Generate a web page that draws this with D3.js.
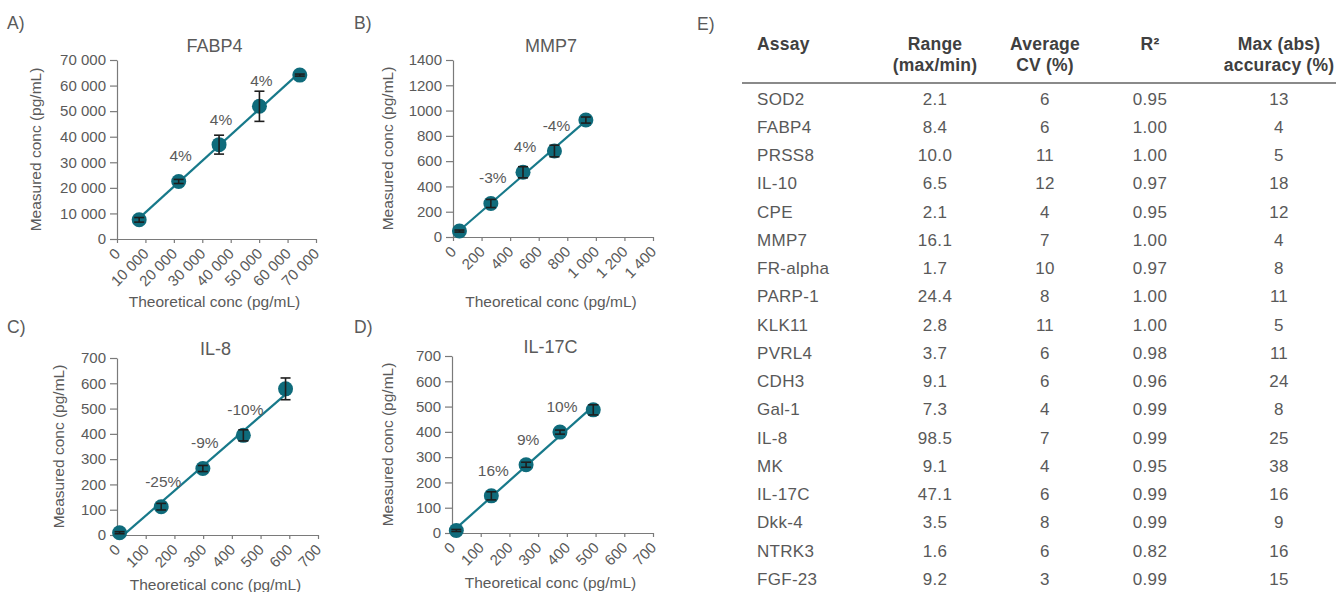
<!DOCTYPE html>
<html>
<head>
<meta charset="utf-8">
<script src="https://cdn.jsdelivr.net/npm/d3@7"></script>
<style>
  html, body { margin: 0; padding: 0; background: #fff; }
  svg { display: block; font-family: "Liberation Sans", Arial, Helvetica, sans-serif; }
</style>
</head>
<body>
<script>
// ---------------- DATA ----------------
// Panel A: FABP4
const fabp4Theoretical = [7800, 21700, 35900, 50100, 64300];
const fabp4Measured    = [7500, 22500, 36900, 51900, 64100];
const fabp4Error       = [900, 800, 3700, 5900, 400];
const fabp4Labels      = [null, "4%", "4%", "4%", null];
const fabp4Ticks       = [0, 10000, 20000, 30000, 40000, 50000, 60000, 70000];

// Panel B: MMP7
const mmp7Theoretical = [45, 265, 490, 710, 930];
const mmp7Measured    = [47, 265, 512, 680, 925];
const mmp7Error       = [8, 32, 44, 46, 24];
const mmp7Labels      = [null, "-3%", "4%", "-4%", null];
const mmp7Ticks       = [0, 200, 400, 600, 800, 1000, 1200, 1400];

// Panel C: IL-8
const il8Theoretical = [9, 154, 299, 440, 587];
const il8Measured    = [9, 112, 263, 394, 578];
const il8Error       = [4, 13, 12, 22, 43];
const il8Labels      = [null, "-25%", "-9%", "-10%", null];
const il8Ticks       = [0, 100, 200, 300, 400, 500, 600, 700];

// Panel D: IL-17C
const il17cTheoretical = [15, 137, 258, 376, 492];
const il17cMeasured    = [10, 147, 270, 399, 487];
const il17cError       = [4, 16, 10, 8, 20];
const il17cLabels      = [null, "16%", "9%", "10%", null];
const il17cTicks       = [0, 100, 200, 300, 400, 500, 600, 700];

// Panel E: table
const tableHeaders = [["Assay"], ["Range", "(max/min)"], ["Average", "CV (%)"], ["R²"], ["Max (abs)", "accuracy (%)"]];
const assays   = ["SOD2", "FABP4", "PRSS8", "IL-10", "CPE", "MMP7", "FR-alpha", "PARP-1", "KLK11", "PVRL4", "CDH3", "Gal-1", "IL-8", "MK", "IL-17C", "Dkk-4", "NTRK3", "FGF-23"];
const ranges   = [2.1, 8.4, 10.0, 6.5, 2.1, 16.1, 1.7, 24.4, 2.8, 3.7, 9.1, 7.3, 98.5, 9.1, 47.1, 3.5, 1.6, 9.2];
const avgCV    = [6, 6, 11, 12, 4, 7, 10, 8, 11, 6, 6, 4, 7, 4, 6, 8, 6, 3];
const rSquared = [0.95, 1.00, 1.00, 0.97, 0.95, 1.00, 0.97, 1.00, 1.00, 0.98, 0.96, 0.99, 0.99, 0.95, 0.99, 0.99, 0.82, 0.99];
const maxAcc   = [13, 4, 5, 18, 12, 4, 8, 11, 5, 11, 24, 8, 25, 38, 16, 9, 16, 15];

// ---------------- DRAWING ----------------
const W = 1336, H = 592;
const textColor = "#5a5a5a";
const axisColor = "#7a7a7a";
const teal = "#0f6b7b";
const lineTeal = "#17798a";

const spaced = d3.formatLocale({decimal: ".", thousands: " ", grouping: [3], currency: ["", ""]}).format(",");
const plain = d3.format("d");

const svg = d3.select("body").append("svg").attr("width", W).attr("height", H);

const panels = [
  {letter: "A)", title: "FABP4", x: fabp4Theoretical, y: fabp4Measured, e: fabp4Error, lab: fabp4Labels,
   xt: fabp4Ticks, yt: fabp4Ticks, xf: spaced, yf: spaced,
   box: {l: 117, r: 316, t: 60, b: 239}, yTitleX: 36, xTitleDy: 68, letterXY: [7, 29], titleY: 52},
  {letter: "B)", title: "MMP7", x: mmp7Theoretical, y: mmp7Measured, e: mmp7Error, lab: mmp7Labels,
   xt: mmp7Ticks, yt: mmp7Ticks, xf: spaced, yf: plain,
   box: {l: 453, r: 653, t: 60, b: 237}, yTitleX: 388, xTitleDy: 70, letterXY: [354, 29], titleY: 52},
  {letter: "C)", title: "IL-8", x: il8Theoretical, y: il8Measured, e: il8Error, lab: il8Labels,
   xt: il8Ticks, yt: il8Ticks, xf: plain, yf: plain,
   box: {l: 117, r: 318, t: 358, b: 535}, yTitleX: 59, xTitleDy: 55, letterXY: [7, 333], titleY: 355},
  {letter: "D)", title: "IL-17C", x: il17cTheoretical, y: il17cMeasured, e: il17cError, lab: il17cLabels,
   xt: il17cTicks, yt: il17cTicks, xf: plain, yf: plain,
   box: {l: 452, r: 653, t: 356, b: 533}, yTitleX: 388, xTitleDy: 55, letterXY: [354, 333], titleY: 353}
];

panels.forEach(p => {
  const g = svg.append("g");
  const xs = d3.scaleLinear().domain([0, d3.max(p.xt)]).range([p.box.l, p.box.r]);
  const ys = d3.scaleLinear().domain([0, d3.max(p.yt)]).range([p.box.b, p.box.t]);

  // panel letter
  g.append("text").attr("x", p.letterXY[0]).attr("y", p.letterXY[1])
    .attr("fill", textColor).style("font-size", "17.5px").text(p.letter);

  // title
  g.append("text").attr("x", (p.box.l + p.box.r) / 2 - 2).attr("y", p.titleY)
    .attr("text-anchor", "middle").attr("fill", textColor).style("font-size", "18px").text(p.title);

  // axes
  const xa = g.append("g").attr("transform", `translate(0,${p.box.b})`)
    .call(d3.axisBottom(xs).tickValues(p.xt).tickFormat(p.xf).tickSize(4).tickSizeOuter(0));
  xa.selectAll("text")
    .attr("x", 0).attr("y", 0).attr("dy", "0.35em")
    .attr("transform", "translate(0,12) rotate(-45)")
    .style("text-anchor", "end");
  const ya = g.append("g").attr("transform", `translate(${p.box.l},0)`)
    .call(d3.axisLeft(ys).tickValues(p.yt).tickFormat(p.yf).tickSize(7).tickPadding(4).tickSizeOuter(0));
  [xa, ya].forEach(a => {
    a.select(".domain").attr("stroke", axisColor).attr("stroke-width", 1.2);
    a.selectAll(".tick line").attr("stroke", axisColor).attr("stroke-width", 1.2);
    a.selectAll("text").attr("fill", textColor).style("font-size", "15px").style("font-family", "'Liberation Sans', Arial, sans-serif");
  });

  // axis titles
  g.append("text").attr("x", (p.box.l + p.box.r) / 2 - 2).attr("y", p.box.b + p.xTitleDy)
    .attr("text-anchor", "middle").attr("fill", textColor).style("font-size", "15.5px")
    .text("Theoretical conc (pg/mL)");
  g.append("text")
    .attr("transform", `translate(${p.yTitleX + 5},${(p.box.t + p.box.b) / 2}) rotate(-90)`)
    .attr("text-anchor", "middle").attr("fill", textColor).style("font-size", "15.5px")
    .text("Measured conc (pg/mL)");

  // regression line (least squares through the points)
  const n = p.x.length;
  const mx = d3.mean(p.x), my = d3.mean(p.y);
  let sxy = 0, sxx = 0;
  for (let i = 0; i < n; i++) { sxy += (p.x[i] - mx) * (p.y[i] - my); sxx += (p.x[i] - mx) ** 2; }
  const slope = sxy / sxx, icpt = my - slope * mx;
  const x0 = d3.min(p.x), x1 = d3.max(p.x);
  g.append("line")
    .attr("x1", xs(x0)).attr("y1", ys(icpt + slope * x0))
    .attr("x2", xs(x1)).attr("y2", ys(icpt + slope * x1))
    .attr("stroke", lineTeal).attr("stroke-width", 2.2);

  const pts = d3.range(n).map(i => ({x: p.x[i], y: p.y[i], e: p.e[i], lab: p.lab[i]}));

  // points
  g.selectAll("circle.pt").data(pts).join("circle").attr("class", "pt")
    .attr("cx", d => xs(d.x)).attr("cy", d => ys(d.y)).attr("r", 7.5).attr("fill", teal);

  // error bars
  const eb = g.selectAll("g.eb").data(pts).join("g").attr("class", "eb")
    .attr("stroke", "#1e1e1e").attr("stroke-width", 1.6);
  eb.append("line").attr("x1", d => xs(d.x)).attr("x2", d => xs(d.x))
    .attr("y1", d => ys(d.y - d.e)).attr("y2", d => ys(d.y + d.e));
  eb.append("line").attr("x1", d => xs(d.x) - 5).attr("x2", d => xs(d.x) + 5)
    .attr("y1", d => ys(d.y + d.e)).attr("y2", d => ys(d.y + d.e));
  eb.append("line").attr("x1", d => xs(d.x) - 5).attr("x2", d => xs(d.x) + 5)
    .attr("y1", d => ys(d.y - d.e)).attr("y2", d => ys(d.y - d.e));

  // accuracy labels
  g.selectAll("text.lab").data(pts.filter(d => d.lab)).join("text").attr("class", "lab")
    .attr("x", d => {
      const cy = ys(d.y) - 25;
      const top = ys(d.y + d.e);
      return xs(d.x) + (top < cy + 9 ? -8 : 2);
    })
    .attr("y", d => ys(d.y) - 20)
    .attr("text-anchor", "middle").attr("fill", textColor).style("font-size", "15.5px")
    .text(d => d.lab);
});

// ---------------- TABLE (E) ----------------
const tg = svg.append("g");
tg.append("text").attr("x", 697).attr("y", 30).attr("fill", textColor).style("font-size", "17.5px").text("E)");

const colX = [757, 935, 1045, 1150, 1279];
const colAnchor = ["start", "middle", "middle", "middle", "middle"];

tableHeaders.forEach((lines, ci) => {
  lines.forEach((t, li) => {
    tg.append("text").attr("x", colX[ci]).attr("y", 50 + li * 21)
      .attr("text-anchor", colAnchor[ci]).attr("fill", "#404040")
      .style("font-size", "17.5px").style("font-weight", "bold").style("letter-spacing", "0.2px").text(t);
  });
});

tg.append("line").attr("x1", 742).attr("x2", W).attr("y1", 83).attr("y2", 83)
  .attr("stroke", "#8a8a8a").attr("stroke-width", 1.8);

const rowY = d3.scaleLinear().domain([0, assays.length - 1]).range([104.5, 585]);
const fmt1 = d3.format(".1f"), fmt2 = d3.format(".2f");
assays.forEach((a, i) => {
  const vals = [a, fmt1(ranges[i]), String(avgCV[i]), fmt2(rSquared[i]), String(maxAcc[i])];
  vals.forEach((v, ci) => {
    tg.append("text").attr("x", colX[ci]).attr("y", rowY(i))
      .attr("text-anchor", colAnchor[ci]).attr("fill", "#595959")
      .style("font-size", "17px").style("letter-spacing", "0.3px").text(v);
  });
});
</script>
</body>
</html>
